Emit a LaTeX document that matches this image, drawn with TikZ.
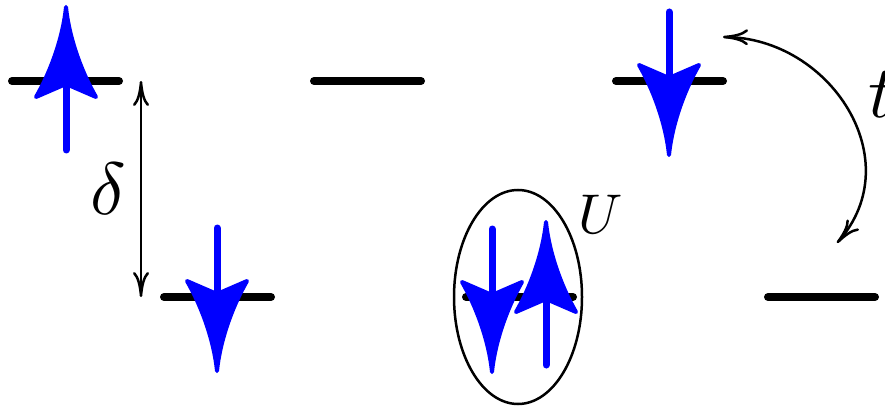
\documentclass[tikz,border=0pt]{standalone}
\usepackage{amsmath,amssymb}
\usetikzlibrary{arrows.meta,shapes.geometric}

\begin{document}
\begin{tikzpicture}[x=1pt,y=-1pt,
  >={To[length=25pt,width=16pt]},
  level/.style={line width=8pt, line cap=round},
  gap/.style={<->, line width=2.5pt},
  hop/.style={<->, line width=2.5pt},
  spinline/.style={blue, line width=7pt, line cap=round},
  spinhead/.style={blue, line width=4pt, line join=round},
  big/.style={scale=7.4, inner sep=0pt},
  small/.style={scale=5.6, inner sep=0pt},
  spin/.pic={
    \draw[spinline] (0,20) -- (0,145);
    \filldraw[spinhead] (0,2) .. controls (-3,32) and (-15,66) .. (-30,92)
      -- (0,79) -- (30,92) .. controls (15,66) and (3,32) .. (0,2) -- cycle;
  },
]
\useasboundingbox (0,0) rectangle (885,414);
\foreach \x/\y/\n in {12/81/la, 314/81/lb, 616/81/lc, 164/297/ld, 466/297/le, 768/297/lf}
  \draw[level] (\x,\y) coordinate (\n) -- ++(107,0);
\pic at (66,5) {spin};
\pic[rotate=180] at (669,157) {spin};
\pic[rotate=180] at (217,373) {spin};
\pic[rotate=180] at (492,374) {spin};
\pic at (546,220) {spin};
\node[draw, ellipse, line width=2.5pt, minimum width=128pt, minimum height=214pt] (pair) at (518,297) {};
\node[small] (U) at (601,214) {$U$};
\coordinate (dtop) at (141,81);
\coordinate (dbot) at (141,297);
\draw[gap] (dtop) -- (dbot);
\node[big] (delta) at (108,189) {$\delta$};
\coordinate (ta) at (723,37);
\coordinate (tb) at (837,243);
\draw[hop] (ta) .. controls (830,38) and (910,160) .. (tb);
\node[big] (t) at (882,95) {$t$};
\end{tikzpicture}
\end{document}
